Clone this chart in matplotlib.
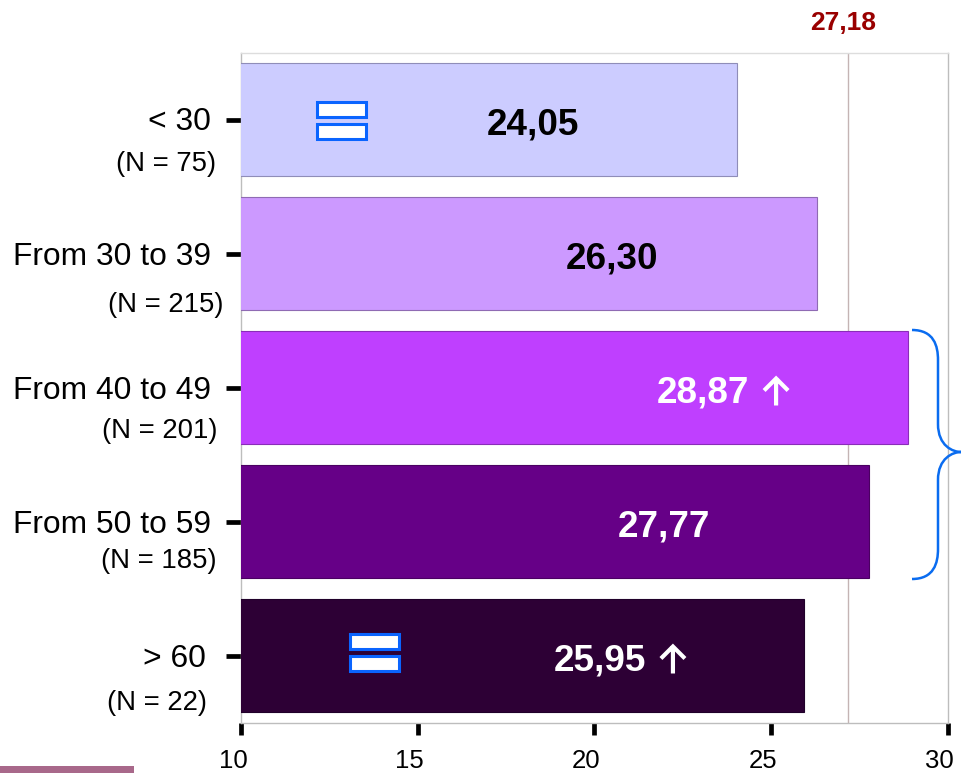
import matplotlib
matplotlib.use("Agg")
import matplotlib.pyplot as plt
import matplotlib.transforms as mtransforms
from matplotlib.patches import PathPatch, Rectangle
from matplotlib.path import Path

plt.rcParams['font.family'] = ['Liberation Sans', 'DejaVu Sans']

categories = ['< 30', 'From 30 to 39', 'From 40 to 49', 'From 50 to 59', '> 60']
sample_sizes = ['(N = 75)', '(N = 215)', '(N = 201)', '(N = 185)', '(N = 22)']
scores = [24.05, 26.30, 28.87, 27.77, 25.95]
score_labels = ['24,05', '26,30', '28,87', '27,77', '25,95']
rising = [False, False, True, False, True]
mean_score = 27.18
mean_label = '27,18'
x_ticks = [10, 15, 20, 25, 30]

bar_colors = ['#CCCCFF', '#CC99FF', '#BF3FFF', '#660087', '#2D0035']
edge_colors = ['#8F8DB8', '#8F6BB3', '#8A2DB8', '#4A0062', '#20002A']
text_colors = ['black', 'black', 'white', 'white', 'white']
cat_right = [211, 211, 211, 211, 206]
cat_y = [122, 257, 391, 525, 659]
n_right = [216, 223, 217, 217, 207]
n_y = [164, 305, 431, 561, 703]

W, H = 961, 773
fig = plt.figure(figsize=(W / 100, H / 100), dpi=100)
ax = fig.add_axes([241 / W, (H - 722.5) / H, 706.5 / W, 670 / H])

# y-down pixel coordinates for the labels placed by hand
px = mtransforms.Affine2D().scale(1, -1).translate(0, H)

y_pos = list(range(len(scores)))
ax.barh(y_pos, scores, left=0, height=0.85, color=bar_colors,
        edgecolor=edge_colors, linewidth=0.8, zorder=3)
ax.axvline(mean_score, color='#C4B4B4', lw=1, zorder=1)
ax.set_xlim(10, 30)
ax.set_ylim(len(scores) - 0.5, -0.5)

for side, col in [('left', '#BDBDBD'), ('right', '#BDBDBD'),
                  ('top', '#DDDDDD'), ('bottom', '#BDBDBD')]:
    ax.spines[side].set_color(col)
    ax.spines[side].set_linewidth(1)

ax.set_yticks(y_pos)
ax.set_yticklabels([])
ax.set_xticks(x_ticks)
ax.set_xticklabels([])
ax.tick_params(axis='y', length=11, width=3.4, color='black')
ax.tick_params(axis='x', length=8.6, width=3.4, color='black')

for tick in x_ticks:
    x_disp = ax.transData.transform((tick, 0))[0]
    fig.text(x_disp - 8, 761, str(tick), transform=px, fontsize=18.5,
             ha='center', va='center', color='black')

for i in y_pos:
    fig.text(cat_right[i], cat_y[i], categories[i], transform=px, fontsize=22.9,
             ha='right', va='center', color='black')
    fig.text(n_right[i], n_y[i], sample_sizes[i], transform=px, fontsize=19.8,
             ha='right', va='center', color='black')

    # score sits a fixed distance back from the bar end
    end_x = ax.transData.transform((scores[i], 0))[0]
    mid_y = H - ax.transData.transform((0, i))[1]
    fig.text(end_x - 158.5, mid_y + 5, score_labels[i], transform=px,
             fontsize=26.6, fontweight='bold', ha='right', va='center',
             color=text_colors[i], zorder=5)
    if rising[i]:
        # up arrow, drawn as strokes since the font glyph is too thin
        ar_x = end_x - 131.5
        arrow = Path([(ar_x, mid_y + 18), (ar_x, mid_y - 9),
                      (ar_x - 12, mid_y + 3), (ar_x, mid_y - 9), (ar_x + 12, mid_y + 3)],
                     [Path.MOVETO, Path.LINETO, Path.MOVETO, Path.LINETO, Path.LINETO])
        fig.add_artist(PathPatch(arrow, transform=px, facecolor='none',
                                 edgecolor=text_colors[i], linewidth=3, zorder=5))

fig.text(ax.transData.transform((mean_score, 0))[0] - 5, 23, mean_label,
         transform=px, fontsize=19, fontweight='bold', ha='center',
         va='center', color='#990000')

# "equal" marker, two white boxes
for i, left, dy in [(0, 317, -18), (4, 350, -22)]:
    mid_y = H - ax.transData.transform((0, i))[1]
    for top in (mid_y + dy, mid_y + dy + 22):
        fig.add_artist(Rectangle((left, top), 49, 15.5, transform=px, facecolor='white',
                                 edgecolor='#0A64FF', linewidth=2.2, zorder=6))

# brace around the 40-49 and 50-59 bars
b_top, b_bot, b_mid = 330, 579, 452
x0, x1, x2 = 912, 938, 961
verts = [(x0, b_top), (x1 - 4, b_top), (x1, b_top + 16), (x1, b_top + 30),
         (x1, b_mid - 28), (x1, b_mid - 6), (x2 - 8, b_mid), (x2, b_mid),
         (x2 - 8, b_mid), (x1, b_mid + 6), (x1, b_mid + 28),
         (x1, b_bot - 30), (x1, b_bot - 16), (x1 - 4, b_bot), (x0, b_bot)]
codes = [Path.MOVETO, Path.CURVE4, Path.CURVE4, Path.CURVE4,
         Path.LINETO, Path.CURVE4, Path.CURVE4, Path.CURVE4,
         Path.CURVE4, Path.CURVE4, Path.CURVE4,
         Path.LINETO, Path.CURVE4, Path.CURVE4, Path.CURVE4]
fig.add_artist(PathPatch(Path(verts, codes), transform=px, facecolor='none',
                         edgecolor='#0A6CF0', linewidth=1.8, zorder=6))

# strip of the photo that sits under the chart
fig.add_artist(Rectangle((0, 765.5), 134, 8, transform=px, facecolor='#A8688A',
                         edgecolor='none', zorder=6))

fig.savefig('out.png', dpi=100)
